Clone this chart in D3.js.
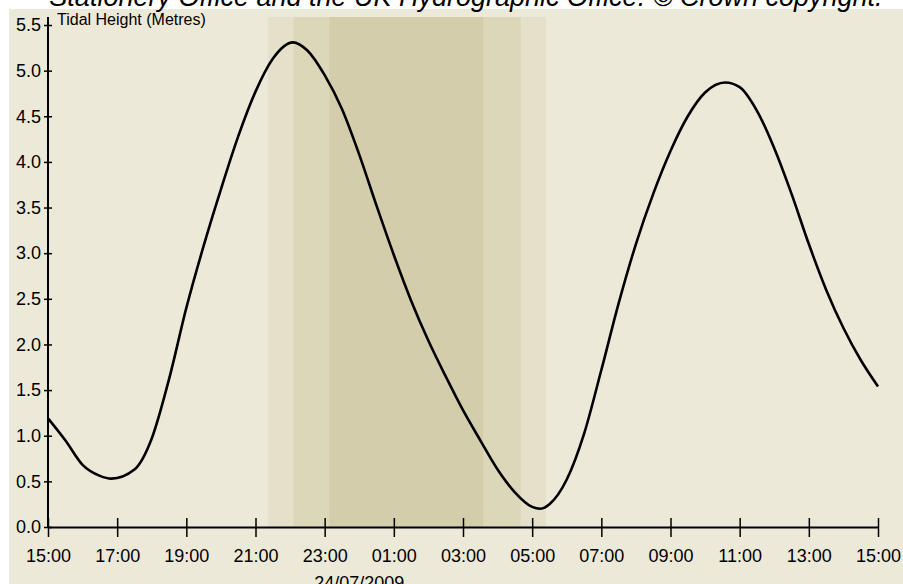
<!DOCTYPE html>
<html>
<head>
<meta charset="utf-8">
<script src="https://cdn.jsdelivr.net/npm/d3@7"></script>
<style>
  body { margin: 0; background: #ffffff; }
  svg { display: block; }
</style>
</head>
<body>
<div id="chart"></div>
<script>
// tide readings (time of day, metres)
var times = ["2009-07-23 15:00", "2009-07-23 15:30", "2009-07-23 16:00", "2009-07-23 16:30",
  "2009-07-23 16:50", "2009-07-23 17:30", "2009-07-23 18:00", "2009-07-23 18:30",
  "2009-07-23 19:00", "2009-07-23 19:30", "2009-07-23 20:00", "2009-07-23 20:30",
  "2009-07-23 21:00", "2009-07-23 21:30", "2009-07-23 22:05", "2009-07-23 22:30",
  "2009-07-23 23:00", "2009-07-23 23:30", "2009-07-24 00:00", "2009-07-24 00:30",
  "2009-07-24 01:00", "2009-07-24 01:30", "2009-07-24 02:00", "2009-07-24 02:30",
  "2009-07-24 03:00", "2009-07-24 03:30", "2009-07-24 04:00", "2009-07-24 04:30",
  "2009-07-24 05:00", "2009-07-24 05:14", "2009-07-24 05:30", "2009-07-24 06:00",
  "2009-07-24 06:30", "2009-07-24 07:00", "2009-07-24 07:30", "2009-07-24 08:00",
  "2009-07-24 08:30", "2009-07-24 09:00", "2009-07-24 09:30", "2009-07-24 10:00",
  "2009-07-24 10:35", "2009-07-24 11:00", "2009-07-24 11:30", "2009-07-24 12:00",
  "2009-07-24 12:30", "2009-07-24 13:00", "2009-07-24 13:30", "2009-07-24 14:00",
  "2009-07-24 14:30", "2009-07-24 15:00"];
var heights = [1.19, 0.95, 0.68, 0.56,
  0.53, 0.63, 0.97, 1.62,
  2.4, 3.08, 3.7, 4.28,
  4.77, 5.13, 5.31, 5.22,
  4.95, 4.58, 4.08, 3.52,
  2.98, 2.48, 2.04, 1.65,
  1.28, 0.95, 0.63, 0.38,
  0.22, 0.20, 0.25, 0.52,
  1.02, 1.72, 2.45, 3.1,
  3.65, 4.12, 4.5, 4.76,
  4.87, 4.82, 4.56, 4.15,
  3.65, 3.1, 2.6, 2.18,
  1.83, 1.54];

// darkness bands: twilight / darker twilight / night
var bandStart = ["2009-07-23 21:22", "2009-07-23 22:06", "2009-07-23 23:08"];
var bandEnd = ["2009-07-24 05:24", "2009-07-24 04:40", "2009-07-24 03:35"];
var bandColors = ["#e4e0c9", "#dcd7b8", "#d4cdab"];

var xTicks = ["2009-07-23 15:00", "2009-07-23 17:00", "2009-07-23 19:00", "2009-07-23 21:00",
  "2009-07-23 23:00", "2009-07-24 01:00", "2009-07-24 03:00", "2009-07-24 05:00",
  "2009-07-24 07:00", "2009-07-24 09:00", "2009-07-24 11:00", "2009-07-24 13:00",
  "2009-07-24 15:00"];
var yTicks = [0, 0.5, 1, 1.5, 2, 2.5, 3, 3.5, 4, 4.5, 5, 5.5];

var width = 903;
var height = 584;
var parse = d3.timeParse("%Y-%m-%d %H:%M");
var font = "Liberation Sans, Arial, sans-serif";

var svg = d3.select("#chart")
  .append("svg")
    .attr("width", width)
    .attr("height", height);

// beige panel below the white strip
svg.append("rect")
  .attr("x", 9).attr("y", 9)
  .attr("width", width - 9).attr("height", height - 9)
  .attr("fill", "#ece9d8");

// cut-off copyright line
svg.append("text")
  .attr("x", 466).attr("y", 6)
  .attr("text-anchor", "middle")
  .style("font-family", font)
  .style("font-style", "italic")
  .style("font-size", "27px")
  .text("Stationery Office and the UK Hydrographic Office. \u00a9 Crown copyright.");

var x = d3.scaleTime()
  .domain([parse("2009-07-23 15:00"), parse("2009-07-24 15:00")])
  .range([48, 878]);

var y = d3.scaleLinear()
  .domain([0, 5.5])
  .range([527, 25]);

// bands
svg.append("g")
  .selectAll("rect")
  .data(bandStart)
  .enter()
  .append("rect")
    .attr("x", function(d) { return x(parse(d)); })
    .attr("y", 17)
    .attr("width", function(d, i) { return x(parse(bandEnd[i])) - x(parse(d)); })
    .attr("height", 527 - 17)
    .attr("fill", function(d, i) { return bandColors[i]; });

// x axis
var xAxis = svg.append("g")
  .attr("transform", "translate(0,527)")
  .call(d3.axisBottom(x)
    .tickValues(xTicks.map(parse))
    .tickFormat(d3.timeFormat("%H:%M"))
    .tickSizeOuter(0));
xAxis.select(".domain").attr("stroke", "#000").attr("stroke-width", 2);
xAxis.selectAll(".tick line").attr("y1", -9).attr("y2", 10).attr("stroke", "#000").attr("stroke-width", 1.5);
xAxis.selectAll(".tick text")
  .attr("y", 22).attr("dy", "0.71em")
  .attr("fill", "#000")
  .style("font-family", font).style("font-size", "18px");

// date under midnight
svg.append("text")
  .attr("x", x(parse("2009-07-24 00:00")))
  .attr("y", 576).attr("dy", "0.71em")
  .attr("text-anchor", "middle")
  .style("font-family", font).style("font-size", "18px")
  .text("24/07/2009");

// y axis
var yAxis = svg.append("g")
  .attr("transform", "translate(48,0)")
  .call(d3.axisLeft(y)
    .tickValues(yTicks)
    .tickFormat(d3.format(".1f"))
    .tickSizeOuter(0));
yAxis.select(".domain").attr("d", "M0,17V527").attr("stroke", "#000").attr("stroke-width", 2);
yAxis.selectAll(".tick line").attr("x1", -4).attr("x2", 4).attr("stroke", "#000").attr("stroke-width", 1.5);
yAxis.selectAll(".tick text")
  .attr("x", -7)
  .attr("fill", "#000")
  .style("font-family", font).style("font-size", "18px");

svg.append("text")
  .attr("x", 57).attr("y", 12).attr("dy", "0.8em")
  .style("font-family", font).style("font-size", "16px")
  .text("Tidal Height (Metres)");

// tide curve
var line = d3.line()
  .x(function(d) { return x(parse(d)); })
  .y(function(d, i) { return y(heights[i]); })
  .curve(d3.curveMonotoneX);

svg.append("path")
  .datum(times)
  .attr("d", line)
  .attr("fill", "none")
  .attr("stroke", "#000")
  .attr("stroke-width", 2.6);
</script>
</body>
</html>
